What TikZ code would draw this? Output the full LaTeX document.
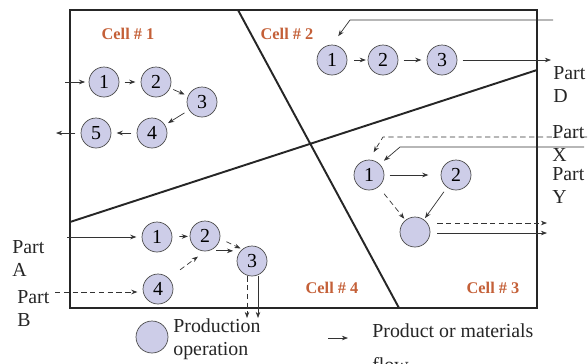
\documentclass[tikz,border=0pt]{standalone}
\usepackage{fontspec}
\setmainfont{Liberation Serif}
\usetikzlibrary{arrows.meta}
\definecolor{opfill}{RGB}{205,205,232}
\definecolor{celltxt}{RGB}{196,96,56}

\begin{document}
\begin{tikzpicture}[x=0.02cm, y=-0.02cm, >={Stealth[length=3.5pt,width=2.6pt]},
	op/.style={circle, draw=black!70, fill=opfill, minimum size=0.6cm, inner sep=0pt, font=\fontsize{11.3}{12}\selectfont},
	cell/.style={text=celltxt, font=\bfseries\fontsize{9.3}{10}\selectfont},
	lbl/.style={font=\fontsize{11.3}{13}\selectfont, align=left, inner sep=0pt, text=black!85},
	flow/.style={->, black!80, thin},
	dflow/.style={->, black!80, thin, densely dashed}]
		\useasboundingbox (0,0) rectangle (588,363);
		% frame and cell borders
		\draw[line width=1.1pt, black!85] (70,10) rectangle (537,308);
		\draw[line width=1.1pt, black!85] (238,10) -- (399,308);
		\draw[line width=1.1pt, black!85] (70,222) -- (537,70);
		\node[cell] (lab1) at (128,34) {Cell \# 1};
		\node[cell] (lab2) at (287,34) {Cell \# 2};
		\node[cell] (lab4) at (332,288) {Cell \# 4};
		\node[cell] (lab3) at (493,288) {Cell \# 3};
		% cell 1
		\node[op] (a1) at (104,82) {1};
		\node[op] (a2) at (156,82) {2};
		\node[op] (a3) at (202,102) {3};
		\node[op] (a4) at (152,133) {4};
		\node[op] (a5) at (96,133) {5};
		\coordinate (a-in) at (65,82);
		\coordinate (a-out) at (56,133);
		\draw[flow, shorten >=2pt] (a-in) -- (a1);
		\draw[flow, shorten <=3pt, shorten >=3pt] (a1) -- (a2);
		\draw[flow, shorten <=2pt, shorten >=2pt] (a2) -- (a3);
		\draw[flow, shorten <=3pt, shorten >=2pt] (a3) -- (a4);
		\draw[flow, shorten <=3pt, shorten >=3pt] (a4) -- (a5);
		\draw[flow, shorten <=3pt] (a5) -- (a-out);
		% cell 2
		\node[op] (b1) at (332,60) {1};
		\node[op] (b2) at (383,60) {2};
		\node[op] (b3) at (442,60) {3};
		\coordinate (b-in) at (553,20);
		\coordinate (b-bend) at (350,20);
		\coordinate (b-out) at (551,60);
		\draw[flow, shorten >=6pt] (b-in) -- (b-bend) -- (b1.north);
		\draw[flow, shorten <=4pt, shorten >=1pt] (b1) -- (b2);
		\draw[flow, shorten <=3pt, shorten >=3pt] (b2) -- (b3);
		\draw[flow, shorten <=3pt] (b3) -- (b-out);
		\node[lbl, anchor=north west] (partD) at (553,66) {Part\\D};
		% cell 3
		\node[op] (c1) at (369,175) {1};
		\node[op] (c2) at (456,175) {2};
		\node[op] (c3) at (415,232) {};
		\coordinate (c-inX) at (587,137);
		\coordinate (c-bendX) at (383,137);
		\coordinate (c-inY) at (584,147);
		\coordinate (c-bendY) at (400,147);
		\coordinate (c-outX) at (547,223);
		\coordinate (c-outY) at (547,233);
		\draw[dflow, shorten >=5pt] (c-inX) -- (c-bendX) -- (c1.north);
		\draw[flow, shorten >=3pt] (c-inY) -- (c-bendY) -- (c1.north east);
		\draw[flow, shorten <=3pt, shorten >=7pt] (c1) -- (c2);
		\draw[dflow, shorten <=5pt, shorten >=1pt] (c1) -- (c3);
		\draw[flow, shorten <=3pt, shorten >=1pt] (c2) -- (c3);
		\draw[dflow, shorten <=4pt] (c3.east |- c-outX) -- (c-outX);
		\draw[flow, shorten <=4pt] (c3.east |- c-outY) -- (c-outY);
		\node[lbl, anchor=north west] (partX) at (552,125) {Part\\X};
		\node[lbl, anchor=north west] (partY) at (552,167) {Part\\Y};
		% cell 4
		\node[op] (d1) at (157,237) {1};
		\node[op] (d2) at (205,236) {2};
		\node[op] (d3) at (252,261) {3};
		\node[op] (d4) at (158,289) {4};
		\coordinate (d-inA) at (67,237);
		\coordinate (d-inB) at (55,292);
		\coordinate (d-out1) at (247,318);
		\coordinate (d-out2) at (258,318);
		\draw[flow, shorten >=3pt] (d-inA) -- (d1);
		\draw[dflow, shorten >=3pt] (d-inB) -- (d-inB -| d4.west);
		\draw[flow, shorten <=4pt, shorten >=1pt] (d1) -- (d2);
		\draw[dflow, shorten <=4pt, shorten >=1pt] (d2.-10) -- (d3.130);
		\draw[flow, shorten <=4pt, shorten >=2pt] (d2.-75) -- (d2.-75 -| d3.west);
		\draw[dflow, shorten <=8pt, shorten >=5pt] (d4.north east) -- (d2.south);
		\draw[dflow] (d3.south -| d-out1) -- (d-out1);
		\draw[flow] (d3.south -| d-out2) -- (d-out2);
		\node[lbl, anchor=north west] (partA) at (12,240) {Part\\A};
		\node[lbl, anchor=north west] (partB) at (17,290) {Part\\B};
		% legend
		\node[op, minimum size=0.64cm] (leg) at (152,337) {};
		\node[lbl, anchor=west] (legtxt) at (173,339) {Production\\operation};
		\coordinate (leg-a) at (328,338);
		\coordinate (leg-b) at (348,338);
		\draw[flow] (leg-a) -- (leg-b);
		\node[lbl, anchor=north west] (legflow) at (372,323) {Product or materials\\[6.5pt]flow};
	\end{tikzpicture}
\end{document}
